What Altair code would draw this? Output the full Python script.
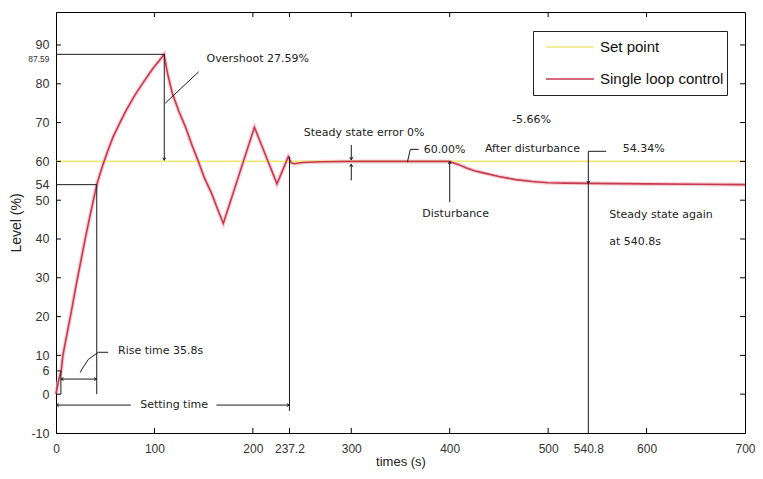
import altair as alt
import pandas as pd

# ---------------- data ----------------
series_names = ["Set point", "Single loop control"]
series_colors = ["#eee77a", "#c63a4f"]

setpoint_time = [0, 700]
setpoint_level = [60, 60]

time = [0, 3, 5.3, 7, 10, 15, 20, 25, 30, 35, 38, 41.4, 45, 48, 53, 58, 65, 71.4, 80, 88, 95,
        99.8, 105, 109.8, 113, 118.2, 125, 131.5, 138, 144.9, 151, 158.2, 164, 170, 201.6,
        224.5, 236, 239, 242, 250, 270, 300, 350, 400, 402, 410, 417, 425, 433, 450, 467,
        484, 500, 517, 540.8, 600, 650, 700]
level = [0, 4, 6, 10, 14, 20.5, 27.5, 34, 40.5, 46.5, 50, 54, 57, 59.4, 63, 66.3, 70, 73.2, 77,
         80.1, 82.7, 84.4, 86, 87.59, 83, 77.5, 72.8, 68.9, 64.3, 59.8, 55.6, 51.7, 47.8, 44,
         68.8, 54.2, 61.2, 59.6, 59.4, 59.7, 59.9, 60, 60, 60, 59.8, 59.1, 58.3, 57.6, 57.1,
         56.1, 55.3, 54.8, 54.5, 54.4, 54.34, 54.2, 54.1, 54.0]

x_ticks = [0, 100, 200, 237.2, 300, 400, 500, 540.8, 600, 700]
y_ticks = [-10, 0, 6, 10, 20, 30, 40, 50, 54, 60, 70, 80, 87.59, 90]
box_x_ticks = [100, 200, 237.2, 300, 400, 500, 600]
box_y_ticks = [0, 10, 20, 30, 40, 50, 60, 70, 80, 90]

# annotation segments (data units)
seg_x = [0, 110, 111, 0, 41.4, 0, 5, 5, 53, 43, 33, 26.4, 0, 163, 237.2, 300, 300, 357, 360, 400, 540.8, 540.8]
seg_y = [87.59, 87.59, 75, 54, 54, 6, 6, 3.9, 10.8, 10.8, 9.0, 6.5, -2.8, -2.8, -4.3, 64.2, 55.1, 59.8, 63.1, 49.5, 62.6, 62.6]
seg_x2 = [110, 110, 145, 41.4, 41.4, 5, 5, 41.4, 43, 33, 26.4, 24.7, 76, 237.2, 237.2, 300, 300, 360, 368.5, 400, 559, 540.8]
seg_y2 = [87.59, 60.3, 83.1, 54, 0, 6, 0, 3.9, 10.8, 9.0, 6.5, 5.6, -2.8, -2.8, 61.2, 60.4, 59.3, 63.1, 63.1, 60, 62.6, -10]

# arrow heads
arrow_x = [110, 5, 41.4, 0, 237.2, 300, 300, 400, 540.8]
arrow_y = [60.3, 3.9, 3.9, -2.8, -2.8, 60.4, 59.3, 60, 54.3]
arrow_dir = ["down", "left", "right", "left", "right", "down", "up", "up", "down"]

# annotation texts
text_label = ["Overshoot 27.59%", "Rise time 35.8s", "Setting time", "Steady state error 0%",
              "60.00%", "Disturbance", "-5.66%", "After disturbance", "54.34%",
              "Steady state again", "at 540.8s"]
text_x = [153, 63, 120, 313, 373.5, 406, 483, 484, 575.7, 562, 562]
text_y = [86.3, 11.2, -2.8, 67.2, 62.9, 46.5, 70.6, 63.3, 63.1, 46.1, 39.2]
text_align = ["left", "left", "center", "center", "left", "center", "center", "center", "left", "left", "left"]

# ---------------- tables ----------------
lines_df = pd.DataFrame({
    "t": setpoint_time + time,
    "L": setpoint_level + level,
    "series": [series_names[0]] * len(setpoint_time) + [series_names[1]] * len(time),
})
halo_df = pd.DataFrame({"t": time, "L": level})
seg_df = pd.DataFrame({"t": seg_x, "L": seg_y, "t2": seg_x2, "L2": seg_y2})
shape_paths = {
    "down": "M-0.7,-1.3L0,0L0.7,-1.3",
    "up": "M-0.7,1.3L0,0L0.7,1.3",
    "left": "M1.3,-0.7L0,0L1.3,0.7",
    "right": "M-1.3,-0.7L0,0L-1.3,0.7",
}
arrow_df = pd.DataFrame({"t": arrow_x, "L": arrow_y,
                         "shape": [shape_paths[d] for d in arrow_dir]})
text_df = pd.DataFrame({"t": text_x, "L": text_y, "label": text_label, "align": text_align})

x_min, x_max = 0, 700
y_min, y_max = -10, 98.5
tick_len_y = 1.3   # in level units (~5px)
tick_len_x = 5.0   # in time units (~5px)

bx = pd.DataFrame({"t": box_x_ticks})
by = pd.DataFrame({"L": box_y_ticks})

xs = alt.Scale(domain=[x_min, x_max], nice=False, zero=False)
ys = alt.Scale(domain=[y_min, y_max], nice=False, zero=False)

AX_FONT = "Liberation Sans"
ANN_FONT = "DejaVu Sans"

x_axis = alt.Axis(values=x_ticks, labelExpr="datum.value + ''", title="times (s)",
                  tickSize=0, grid=False, labelFont=AX_FONT, labelFontSize=12,
                  labelColor="#333", labelPadding=10, labelFlush=False, labelOverlap=False,
                  titleFont=AX_FONT, titleFontSize=13, titleFontWeight="normal",
                  titleColor="#222", titlePadding=1, domainColor="#000")
y_axis = alt.Axis(values=y_ticks, labelExpr="datum.value + ''", title="Level (%)",
                  tickSize=0, grid=False, labelFont=AX_FONT,
                  labelFontSize={"condition": {"test": "datum.value == 87.59", "value": 8.5}, "value": 12.5},
                  labelOffset={"condition": {"test": "datum.value == 87.59", "value": 4}, "value": 0},
                  labelColor="#333", labelPadding=7, labelOverlap=False,
                  titleFont=AX_FONT, titleFontSize=14, titleFontWeight="normal",
                  titleColor="#222", titlePadding=4, domainColor="#000")

X = lambda f="t:Q": alt.X(f, scale=xs, axis=x_axis)
Y = lambda f="L:Q": alt.Y(f, scale=ys, axis=y_axis)

halo = alt.Chart(halo_df).mark_line(color="#f3b9c3", strokeWidth=4, opacity=0.7).encode(
    x=X(), y=Y())

lines = alt.Chart(lines_df).mark_line(strokeWidth=1.6).encode(
    x=X(), y=Y(),
    color=alt.Color("series:N",
                    scale=alt.Scale(domain=series_names, range=series_colors),
                    legend=alt.Legend(title=None, orient="none", legendX=477, legendY=19,
                                      symbolType="stroke", symbolSize=2304,
                                      symbolStrokeWidth=1.6, symbolOffset=9,
                                      labelFont=AX_FONT, labelFontSize=15,
                                      labelColor="#111", labelOffset=5,
                                      clipHeight=26, rowPadding=6,
                                      strokeColor="#222", fillColor="#ffffff", padding=3,
                                      cornerRadius=0)),
)

segs = alt.Chart(seg_df).mark_rule(color="#1a1a1a", strokeWidth=1).encode(
    x=X(), y=Y(), x2="t2:Q", y2="L2:Q")

arrows = alt.Chart(arrow_df).mark_point(filled=False, color="#1a1a1a", strokeWidth=1, size=16, opacity=1).encode(
    x=X(), y=Y(), shape=alt.Shape("shape:N", scale=None))

texts_left = alt.Chart(text_df).transform_filter("datum.align == 'left'").mark_text(
    align="left", baseline="middle", font=ANN_FONT, fontSize=11, color="#222").encode(
    x=X(), y=Y(), text="label:N")
texts_center = alt.Chart(text_df).transform_filter("datum.align == 'center'").mark_text(
    align="center", baseline="middle", font=ANN_FONT, fontSize=11, color="#222").encode(
    x=X(), y=Y(), text="label:N")

# inward box ticks (MATLAB style)
tick_bottom = alt.Chart(bx).transform_calculate(L=f"{y_min}", L2=f"{y_min + tick_len_y}").mark_rule(
    color="#000").encode(x=X(), y=Y(), y2="L2:Q")
tick_top = alt.Chart(bx).transform_calculate(L=f"{y_max}", L2=f"{y_max - tick_len_y}").mark_rule(
    color="#000").encode(x=X(), y=Y(), y2="L2:Q")
tick_left = alt.Chart(by).transform_calculate(t=f"{x_min}", t2=f"{x_min + tick_len_x}").mark_rule(
    color="#000").encode(y=Y(), x=X(), x2="t2:Q")
tick_right = alt.Chart(by).transform_calculate(t=f"{x_max}", t2=f"{x_max - tick_len_x}").mark_rule(
    color="#000").encode(y=Y(), x=X(), x2="t2:Q")

chart = alt.layer(
    halo, lines, segs, arrows, texts_left, texts_center,
    tick_bottom, tick_top, tick_left, tick_right
).properties(
    width=689, height=421,
    background="white",
    autosize=alt.AutoSizeParams(type="none"),
    padding={"left": 48, "top": 4, "right": 10, "bottom": 38},
).configure_view(stroke="#000", strokeWidth=1)

chart.save("out.html", embed_options={"renderer": "svg", "actions": False})
